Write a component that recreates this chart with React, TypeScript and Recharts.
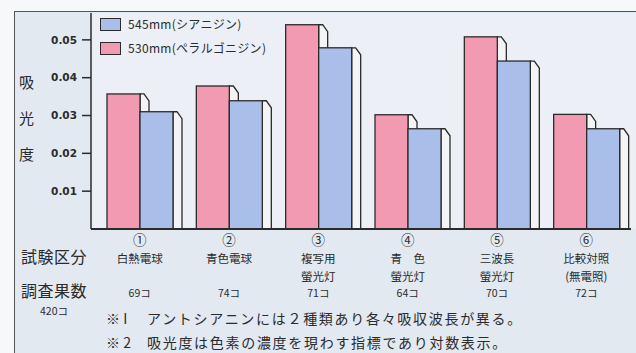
import React from 'react';
import { BarChart, Bar, XAxis, YAxis } from 'recharts';

const categories = ['白熱電球', '青色電球', '複写用\n螢光灯', '青　色\n螢光灯', '三波長\n螢光灯', '比較対照\n(無電照)'];
const marks = ['①', '②', '③', '④', '⑤', '⑥'];
const counts = ['69コ', '74コ', '71コ', '64コ', '70コ', '72コ'];
const pink530 = [0.0357, 0.0378, 0.054, 0.0302, 0.0508, 0.0303];
const blue545 = [0.031, 0.0339, 0.0479, 0.0265, 0.0444, 0.0265];
const yTicks = [0.01, 0.02, 0.03, 0.04, 0.05];
const notes = [
  { mark: '※ I', text: 'アントシアニンには２種類あり各々吸収波長が異る。' },
  { mark: '※ 2', text: '吸光度は色素の濃度を現わす指標であり対数表示。' },
];

const PINK = '#f39ab3';
const BLUE = '#a9bee9';
const INK = '#2b2b2b';
const JP = '"Noto Sans CJK JP", "Noto Sans", sans-serif';

const data = categories.map((name, i) => ({
  name,
  mark: marks[i],
  count: counts[i],
  p530: pink530[i],
  b545: blue545[i],
}));

// front face plus a light side face, like the printed pseudo-3D bars
const Bar3D = (props: any) => {
  const { x, y, width, height, fill } = props;
  if (height <= 0) return null;
  const r = x + width;
  const b = y + height;
  const side = `${r},${y} ${r + 4},${y} ${r + 9},${y + 7} ${r + 9},${b} ${r},${b}`;
  return (
    <g>
      <polygon points={side} fill="#f4f4f6" stroke={INK} strokeWidth={1.3} />
      <rect x={x} y={y} width={width} height={height} fill={fill} stroke={INK} strokeWidth={1.3} />
    </g>
  );
};

const CatTick = (props: any) => {
  const { x, y, payload } = props;
  const d = data[payload.index];
  const lines = d.name.split('\n');
  return (
    <g fontFamily={JP} fill={INK}>
      <text x={x} y={y + 2} textAnchor="middle" dominantBaseline="central" fontSize={13.5}>{d.mark}</text>
      {lines.map((l: string, i: number) => (
        <text key={i} x={x} y={y + 21 + i * 17.5} textAnchor="middle" dominantBaseline="central" fontSize={11.5}>{l}</text>
      ))}
      <text x={x} y={y + 55.5} textAnchor="middle" dominantBaseline="central" fontSize={10.5}>{d.count}</text>
    </g>
  );
};

const legendItems = [
  { c: BLUE, t: '545mm(シアニジン)' },
  { c: PINK, t: '530mm(ペラルゴニジン)' },
];

const abs = (l: number, t: number, extra: React.CSSProperties = {}): React.CSSProperties => ({
  position: 'absolute', left: l, top: t, lineHeight: 1.2, ...extra,
});

export default function App() {
  return (
    <div style={{ position: 'absolute', left: 0, top: 0, width: 636, height: 353, background: '#f7f8fa', overflow: 'hidden' }}>
      <div style={abs(14, 11, { width: 622, height: 342, background: '#e3e9f1', borderTop: '1.5px solid #555', borderLeft: '1.5px solid #555', boxSizing: 'border-box' })} />
      <div style={abs(91, 13, { width: 545, height: 216, background: '#eceff5' })} />
      <div style={abs(0, 0)}>
        <BarChart width={636} height={353} data={data} margin={{ top: 13, right: 5, bottom: 0, left: 0 }} barGap={0} barSize={33}>
          <YAxis
            width={91}
            domain={[0, 0.0571]}
            ticks={yTicks}
            tickFormatter={(v: number) => v.toFixed(2)}
            axisLine={{ stroke: INK, strokeWidth: 1.5 }}
            tickLine={{ stroke: INK, strokeWidth: 1.5 }}
            tickSize={9}
            tickMargin={5}
            tick={{ fill: INK, fontSize: 10.5, fontFamily: 'DejaVu Sans', fontWeight: 'bold' }}
          />
          <XAxis
            dataKey="name"
            height={124}
            padding={{ left: 4, right: 0 }}
            axisLine={{ stroke: INK, strokeWidth: 2 }}
            tickLine={false}
            tick={<CatTick />}
            interval={0}
          />
          <Bar dataKey="p530" fill={PINK} shape={<Bar3D />} isAnimationActive={false} />
          <Bar dataKey="b545" fill={BLUE} shape={<Bar3D />} isAnimationActive={false} />
        </BarChart>
      </div>
      {legendItems.map((e, i) => (
        <div key={i} style={abs(100, 17 + i * 24, { display: 'flex', alignItems: 'center', fontFamily: JP, fontSize: 12, letterSpacing: 0.3, color: INK })}>
          <span style={{ width: 19, height: 11, background: e.c, border: `1.3px solid ${INK}`, marginRight: 7 }} />
          <span>{e.t}</span>
        </div>
      ))}
      <div style={abs(21, 247, { fontFamily: JP, fontSize: 16, color: INK, letterSpacing: 0.5 })}>試験区分</div>
      <div style={abs(21, 281, { fontFamily: JP, fontSize: 16, color: INK, letterSpacing: 0.5 })}>調査果数</div>
      <div style={abs(40, 305, { fontFamily: JP, fontSize: 10.5, color: INK })}>420コ</div>
      {notes.map((n, i) => (
        <div key={i} style={abs(106, 311 + i * 24, { fontFamily: JP, fontSize: 14, color: INK, lineHeight: '14px', whiteSpace: 'pre' })}>
          <span>{n.mark}</span>
          <span style={{ position: 'absolute', left: 41, letterSpacing: 1.7 }}>{n.text}</span>
        </div>
      ))}
      {['吸', '光', '度'].map((c, i) => (
        <div key={c} style={abs(19, 73 + i * 36, { fontFamily: JP, fontSize: 15, color: INK })}>{c}</div>
      ))}
    </div>
  );
}
